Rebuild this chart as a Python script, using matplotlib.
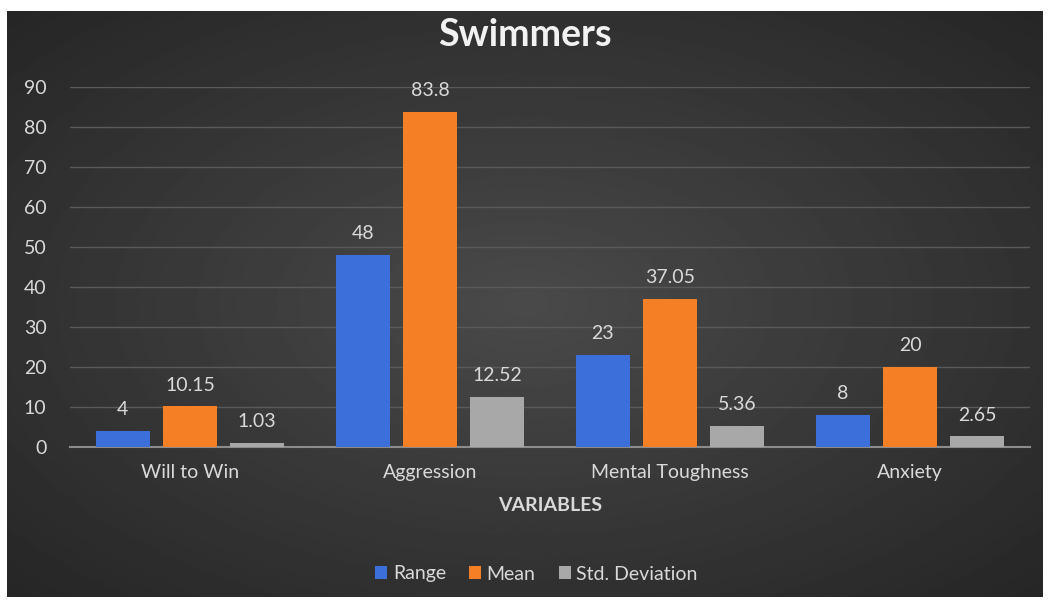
import numpy as np
import matplotlib
matplotlib.use("Agg")
import matplotlib.pyplot as plt

# datos
categories = ["Will to Win", "Aggression", "Mental Toughness", "Anxiety"]
range_vals = [4, 48, 23, 8]
mean_vals = [10.15, 83.8, 37.05, 20]
std_vals = [1.03, 12.52, 5.36, 2.65]
range_labels = ["4", "48", "23", "8"]
mean_labels = ["10.15", "83.8", "37.05", "20"]
std_labels = ["1.03", "12.52", "5.36", "2.65"]

plt.rcParams['font.family'] = ['Lato', 'DejaVu Sans']

fig = plt.figure(figsize=(10.5, 6.01), dpi=100, facecolor='white')

# fondo oscuro con degradado radial
bg = fig.add_axes([7 / 1050, 4 / 601, 1036 / 1050, 586 / 601])
yy, xx = np.mgrid[-1:1:300j, -1:1:500j]
r = np.sqrt(xx ** 2 + yy ** 2)
bg.imshow(0.29 - 0.10 * r, cmap='gray', vmin=0, vmax=1, aspect='auto', extent=[0, 1, 0, 1])
bg.set_axis_off()

ax = fig.add_axes([70 / 1050, 1 - 447 / 601, 960 / 1050, 360 / 601])
ax.patch.set_alpha(0)

x = np.arange(len(categories))
w = 0.225
off = 0.28
series = [(range_vals, range_labels, '#3c6fd9', 'Range', -off),
          (mean_vals, mean_labels, '#f47f24', 'Mean', 0),
          (std_vals, std_labels, '#a8a8a8', 'Std. Deviation', off)]
for vals, labs, col, name, o in series:
    bars = ax.bar(x + o, vals, w, color=col, label=name, zorder=3)
    for b, lab in zip(bars, labs):
        ax.text(b.get_x() + b.get_width() / 2, b.get_height() + 3.2, lab,
                ha='center', va='bottom', color='#d9d9d9', fontsize=14)

ax.set_xlim(-0.5, 3.5)
ax.set_ylim(0, 90)
ax.set_yticks(range(0, 91, 10))
ax.yaxis.grid(True, color='#5a5a5a', linewidth=1, zorder=0)
ax.set_xticks(x)
ax.set_xticklabels(categories)
ax.tick_params(axis='both', length=0, colors='#d9d9d9', labelsize=14)
ax.tick_params(axis='x', pad=12)
ax.tick_params(axis='y', pad=17)
for s in ['top', 'right', 'left']:
    ax.spines[s].set_visible(False)
ax.spines['bottom'].set_color('#8c8c8c')
ax.spines['bottom'].set_linewidth(1.5)

ax.set_xlabel('VARIABLES', color='#d9d9d9', fontsize=14, fontweight='bold', labelpad=12)
fig.text(0.5, 1 - 35 / 601, 'Swimmers', ha='center', va='center', color='#f2f2f2',
         fontsize=27, fontweight='bold')

fig.legend(loc='center', bbox_to_anchor=(0.511, 1 - 574 / 601), ncol=3, frameon=False,
           fontsize=14, labelcolor='#d9d9d9', handlelength=0.6, handleheight=0.6,
           handletextpad=0.3, columnspacing=1.2)

plt.savefig('out.png', dpi=100, facecolor='white')
